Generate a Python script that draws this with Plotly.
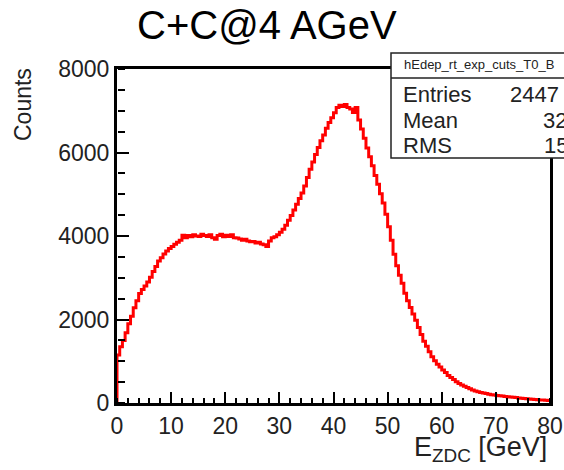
import plotly.graph_objects as go

# ---- data ----
bin_width = 0.5
x_min, x_max = 0.0, 80.0
counts = [
    1150, 1350, 1500, 1680, 1900, 2080, 2280, 2450, 2620, 2720,
    2800, 2900, 3010, 3150, 3270, 3400, 3480, 3570, 3640, 3700,
    3750, 3800, 3850, 3900, 4020, 3960, 4010, 3980, 4030, 4000,
    3990, 4040, 4010, 3990, 4030, 3960, 3920, 4010, 4040, 3980,
    4020, 3990, 4030, 3960, 3950, 3930, 3900, 3920, 3880, 3860,
    3870, 3830, 3850, 3810, 3790, 3750, 3880, 3960, 3980, 4030,
    4090, 4160, 4260, 4380, 4490, 4620, 4760, 4900, 5030, 5200,
    5400, 5600, 5770, 5950, 6120, 6280, 6420, 6580, 6720, 6830,
    6950, 7080, 7130, 7100, 7150, 7080, 7040, 6960, 7080, 6780,
    6560, 6340, 6110, 5900, 5680, 5450, 5240, 5010, 4790, 4520,
    4220, 3900, 3560, 3290, 3060, 2870, 2630, 2450, 2290, 2130,
    1980, 1810, 1640, 1480, 1360, 1230, 1110, 1010, 930, 860,
    790, 730, 660, 610, 560, 510, 470, 430, 400, 370,
    340, 310, 290, 270, 250, 240, 225, 210, 200, 190,
    180, 175, 165, 158, 150, 145, 138, 130, 122, 115,
    110, 102, 96, 90, 84, 78, 74, 70, 66, 62,
]
x_ticks = [0, 10, 20, 30, 40, 50, 60, 70, 80]
y_ticks = [0, 2000, 4000, 6000, 8000]
x_minor_step = 2
y_minor_step = 500
title_text = "C+C@4 AGeV"
stats_name = "hEdep_rt_exp_cuts_T0_B"
stats_labels = ["Entries", "Mean", "RMS"]
stats_values = ["2447", "32", "15"]

# step outline built from bin edges
edges = [x_min + i * bin_width for i in range(len(counts) + 1)]
step_x = [edges[0]] + edges
step_y = [0] + counts + [counts[-1]]

# ---- geometry (pixels) ----
W, H = 564, 470
L, R, T, B = 117, 550, 69, 403


def px(xp):
    return (xp - L) / (R - L)


def py(yp):
    return (B - yp) / (B - T)


FONT = "Liberation Sans, Arial, Helvetica, sans-serif"

fig = go.Figure()
# invisible carrier trace for the minor-tick overlay axes
fig.add_trace(go.Scatter(
    x=step_x, y=step_y, mode="lines", xaxis="x2", yaxis="y2",
    line=dict(color="rgba(0,0,0,0)", width=0),
    hoverinfo="skip", showlegend=False,
))
fig.add_trace(go.Scatter(
    x=step_x, y=step_y, mode="lines",
    line=dict(color="#ff0000", width=3, shape="hv"),
    hoverinfo="skip", showlegend=False,
))

axis_common = dict(
    showgrid=False, zeroline=False, automargin=False,
    showline=True, linecolor="black", linewidth=3, mirror=True,
    ticks="inside", tickcolor="black", tickwidth=2,
    tickfont=dict(family=FONT, size=23, color="#222222"),
)
minor_common = dict(
    showgrid=False, zeroline=False, automargin=False, showline=False,
    ticks="outside", tickcolor="black", tickwidth=1.5, showticklabels=False,
    anchor="free", position=0,
)

fig.update_layout(
    xaxis=dict(range=[x_min, x_max], tickvals=x_ticks, ticklen=11, **axis_common),
    yaxis=dict(range=[0, 8000], tickvals=y_ticks, ticklen=12, **axis_common),
    # minor ticks: free axes sitting on the bottom / left frame, ticks pointing into the plot
    xaxis2=dict(range=[x_min, x_max], dtick=x_minor_step, tick0=0, ticklen=5,
                overlaying="x", side="top", **minor_common),
    yaxis2=dict(range=[0, 8000], dtick=y_minor_step, tick0=0, ticklen=7,
                overlaying="y", side="right", **minor_common),
)

shapes = [
    # stats box
    dict(type="rect", xref="paper", yref="paper", x0=px(391), x1=px(620),
         y0=py(158), y1=py(53), line=dict(color="#222222", width=1.5),
         fillcolor="white", layer="above"),
    dict(type="line", xref="paper", yref="paper", x0=px(391), x1=px(620),
         y0=py(78), y1=py(78), line=dict(color="#222222", width=1.5), layer="above"),
]

annotations = [
    dict(text=title_text, x=px(267), y=py(25), xref="paper", yref="paper",
         xanchor="center", yanchor="middle", showarrow=False,
         font=dict(family=FONT, size=40, color="black")),
    dict(text="Counts", x=px(23), y=py(105), xref="paper", yref="paper",
         xanchor="center", yanchor="middle", textangle=-90, showarrow=False,
         font=dict(family=FONT, size=23, color="#222222")),
    dict(text="E<sub>ZDC</sub> [GeV]", x=px(549), y=py(449), xref="paper", yref="paper",
         xanchor="right", yanchor="middle", showarrow=False,
         font=dict(family=FONT, size=27, color="#222222")),
    dict(text=stats_name, x=px(402), y=py(65), xref="paper", yref="paper",
         xanchor="left", yanchor="middle", showarrow=False,
         font=dict(family=FONT, size=13, color="#222222")),
]
row_y = [94, 120, 145]
val_x = [508, 541, 542]
for lab, val, ry, vx in zip(stats_labels, stats_values, row_y, val_x):
    annotations.append(dict(text=lab, x=px(401), y=py(ry), xref="paper", yref="paper",
                            xanchor="left", yanchor="middle", showarrow=False,
                            font=dict(family=FONT, size=22, color="#222222")))
    annotations.append(dict(text=val, x=px(vx), y=py(ry), xref="paper", yref="paper",
                            xanchor="left", yanchor="middle", showarrow=False,
                            font=dict(family=FONT, size=22, color="#222222")))

fig.update_layout(
    width=W, height=H,
    margin=dict(l=L, r=W - R, t=T, b=H - B, pad=0, autoexpand=False),
    paper_bgcolor="white", plot_bgcolor="white",
    shapes=shapes, annotations=annotations,
    showlegend=False,
)

fig.write_html("out.html", include_plotlyjs=True, config={"displayModeBar": False})
